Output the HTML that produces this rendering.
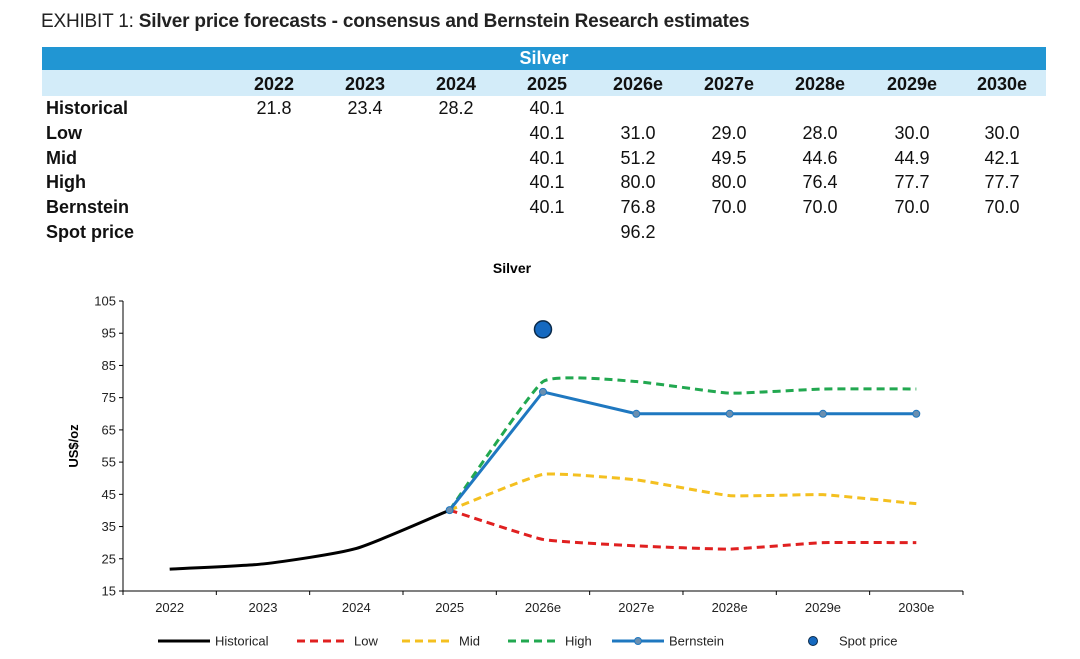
<!DOCTYPE html>
<html><head><meta charset="utf-8"><style>
body{margin:0;width:1080px;height:659px;background:#fff;font-family:"Liberation Sans",Arial,sans-serif;position:relative;overflow:hidden}
.abs{position:absolute}
.t{white-space:nowrap}
</style></head><body>
<div class="abs t" style="left:41px;top:11px;font-size:19px;color:#222;letter-spacing:-0.2px"><span style="font-weight:300">EXHIBIT 1:</span> <b>Silver price forecasts - consensus and Bernstein Research estimates</b></div>
<div class="abs" style="left:42px;top:47px;width:1004px;height:23px;background:#2196d3;color:#fff;font-weight:bold;font-size:18px;text-align:center;line-height:23px">Silver</div>
<div class="abs" style="left:42px;top:70px;width:1004px;height:26px;background:#d3ecf9"></div>
<div id="tbl"></div>
<svg class="abs" style="left:0;top:0" width="1080" height="659" id="chart"></svg>
<script>
const cols=["2022","2023","2024","2025","2026e","2027e","2028e","2029e","2030e"];
const rowNames=["Historical","Low","Mid","High","Bernstein","Spot price"];
const historical=[21.8,23.4,28.2,40.1,null,null,null,null,null];
const low=[null,null,null,40.1,31.0,29.0,28.0,30.0,30.0];
const mid=[null,null,null,40.1,51.2,49.5,44.6,44.9,42.1];
const high=[null,null,null,40.1,80.0,80.0,76.4,77.7,77.7];
const bernstein=[null,null,null,40.1,76.8,70.0,70.0,70.0,70.0];
const spot=[null,null,null,null,96.2,null,null,null,null];
const yTicks=[15,25,35,45,55,65,75,85,95,105];

const tbl=document.getElementById('tbl');
const colX=[274,365,456,547,638,729,820,912,1002];
function addDiv(txt,x,y,bold,center,name){
  const d=document.createElement('div');
  d.className='abs t';d.textContent=txt;
  
  
  d.style.cssText=`top:${y-11}px;font-size:18px;line-height:22px;color:#111;${bold?'font-weight:bold;':''}`+(center?`left:${x-40}px;width:80px;text-align:center;`:`left:${x}px;`);
  tbl.appendChild(d);
}
cols.forEach((c,i)=>addDiv(c,colX[i],84,true,true,'column-header'));
const rows=[historical,low,mid,high,bernstein,spot];
rows.forEach((r,ri)=>{
  const y=108+ri*24.8;
  addDiv(rowNames[ri],46,y,true,false,'row-label');
  r.forEach((v,i)=>{if(v!=null)addDiv(v.toFixed(1),colX[i],y,false,true,'table-cell');});
});

const svg=document.getElementById('chart');
const NS='http://www.w3.org/2000/svg';
const x0=123,step=93.33,yTop=301,yBot=591;
const X=i=>x0+step*(i+0.5);
const Y=v=>yBot-(v-15)/(105-15)*(yBot-yTop);
function el(tag,attrs,name){const e=document.createElementNS(NS,tag);for(const k in attrs)e.setAttribute(k,attrs[k]);
  
  
  svg.appendChild(e);return e;}
function txt(s,x,y,attrs,name){const e=el('text',Object.assign({x,y,'font-family':'Liberation Sans, Arial, sans-serif'},attrs),name);e.textContent=s;return e;}
txt('Silver',512,273,{'font-size':14,'font-weight':'bold','text-anchor':'middle'},'chart-title');
el('line',{x1:x0,y1:yTop,x2:x0,y2:yBot,stroke:'#000','stroke-width':1},'y-axis');
el('line',{x1:x0,y1:yBot,x2:x0+step*9,y2:yBot,stroke:'#000','stroke-width':1},'x-axis');
yTicks.forEach(v=>{el('line',{x1:x0-4,y1:Y(v),x2:x0,y2:Y(v),stroke:'#000'},'y-tick');
  txt(String(v),x0-7,Y(v)+4.5,{'font-size':13,'text-anchor':'end',fill:'#222'},'y-tick-label');});
for(let i=0;i<=9;i++)el('line',{x1:x0+step*i,y1:yBot,x2:x0+step*i,y2:yBot+4,stroke:'#000'},'x-tick');
cols.forEach((c,i)=>txt(c,X(i),612,{'font-size':13,'text-anchor':'middle',fill:'#222'},'x-tick-label'));
txt('US$/oz',0,0,{'font-size':13,'font-weight':'bold','text-anchor':'middle',transform:`translate(78,446) rotate(-90)`},'y-axis-title');
function path(arr,t){const p=[];arr.forEach((v,i)=>{if(v!=null)p.push([X(i),Y(v)]);});
  let d=`M${p[0][0]},${p[0][1]}`;
  for(let i=0;i<p.length-1;i++){const a=p[i-1]||p[i],b=p[i],c=p[i+1],e=p[i+2]||c;
    d+=` C${b[0]+(c[0]-a[0])/t},${b[1]+(c[1]-a[1])/t} ${c[0]-(e[0]-b[0])/t},${c[1]-(e[1]-b[1])/t} ${c[0]},${c[1]}`;}
  return d;}
const series=[[low,'#e02020','8,5','low-line'],[mid,'#f4c020','8,5','mid-line'],[high,'#22a850','8,5','high-line']];
series.forEach(s=>el('path',{d:path(s[0],16),fill:'none',stroke:s[1],'stroke-width':3,'stroke-dasharray':s[2]},s[3]));
el('path',{d:path(historical,10),fill:'none',stroke:'#000','stroke-width':3},'historical-line');
let bd='';bernstein.forEach((v,i)=>{if(v!=null)bd+=(bd?'L':'M')+X(i)+','+Y(v);});
el('path',{d:bd,fill:'none',stroke:'#1f78c0','stroke-width':3},'bernstein-line');
bernstein.forEach((v,i)=>{if(v!=null)el('circle',{cx:X(i),cy:Y(v),r:3.5,fill:'#6a8fb0',stroke:'#1f78c0','stroke-width':1},'bernstein-point');});
spot.forEach((v,i)=>{if(v!=null)el('circle',{cx:X(i),cy:Y(v),r:8.5,fill:'#1569c0',stroke:'#0a2a4a','stroke-width':1.5},'spot-price-point');});
const ly=641;
const leg=[['Historical',158,'#000',null,'line'],['Low',297,'#e02020','8,5','line'],['Mid',402,'#f4c020','8,5','line'],['High',508,'#22a850','8,5','line'],['Bernstein',612,'#1f78c0',null,'marker'],['Spot price',782,'#1569c0',null,'dot']];
leg.forEach(l=>{
  if(l[4]==='dot'){el('circle',{cx:l[1]+31,cy:ly,r:4.5,fill:l[2],stroke:'#0a2a4a'},'legend-swatch');}
  else{el('line',{x1:l[1],y1:ly,x2:l[1]+52,y2:ly,stroke:l[2],'stroke-width':3,'stroke-dasharray':l[3]||'none'},'legend-swatch');
    if(l[4]==='marker')el('circle',{cx:l[1]+26,cy:ly,r:3.5,fill:'#6a8fb0',stroke:l[2]},'legend-marker');}
  txt(l[0],l[1]+57,ly+4.5,{'font-size':13,fill:'#222'},'legend-entry');
});
</script>
</body></html>
